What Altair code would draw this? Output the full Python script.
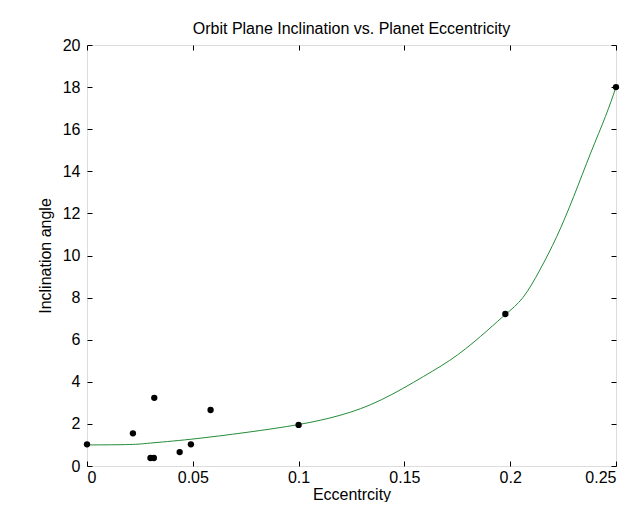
import altair as alt
import pandas as pd

# observed planets
ecc = [0.0, 0.0217, 0.0300, 0.0316, 0.0318, 0.0438, 0.0491, 0.0584, 0.1, 0.1977, 0.25]
inc = [1.03, 1.55, 0.38, 0.38, 3.24, 0.66, 1.03, 2.66, 1.95, 7.22, 18.0]

# fitted curve
fit_e = [0.0, 0.02, 0.03, 0.049, 0.0756, 0.1, 0.12, 0.139, 0.159, 0.175, 0.189,
         0.198, 0.206, 0.214, 0.222, 0.23, 0.238, 0.245, 0.25]
fit_i = [1.0, 1.02, 1.09, 1.27, 1.6, 1.97, 2.42, 3.14, 4.25, 5.27, 6.42,
         7.22, 8.0, 9.31, 10.9, 12.8, 14.86, 16.6, 18.0]

x_ticks = [0, 0.05, 0.1, 0.15, 0.2, 0.25]
y_ticks = [0, 2, 4, 6, 8, 10, 12, 14, 16, 18, 20]

W, H = 529, 421
FONT = "Liberation Sans"
FS = 16

pts = pd.DataFrame({"e": ecc, "i": inc})
fit = pd.DataFrame({"e": fit_e, "i": fit_i})

xs = alt.Scale(domain=[0, 0.25], nice=False, zero=False)
ys = alt.Scale(domain=[0, 20], nice=False, zero=False)

def xaxis(orient, labels, offset=0, title=None):
    kw = dict(orient=orient, values=x_ticks, format="~g", grid=False, domain=False,
              labels=labels, title=title, offset=offset)
    if labels:
        kw.update(ticks=False, labelPadding=3, labelFontSize=FS, labelFont=FONT,
                  labelColor="black", titleFontSize=FS, titleFont=FONT,
                  titleFontWeight="normal", titleColor="black", titlePadding=1)
    else:
        kw.update(ticks=True, tickSize=5, tickColor="black", tickWidth=1)
    return alt.Axis(**kw)

def yaxis(orient, labels, offset=0, title=None):
    kw = dict(orient=orient, values=y_ticks, format="~g", grid=False, domain=False,
              labels=labels, title=title, offset=offset)
    if labels:
        kw.update(ticks=False, labelPadding=7, labelFontSize=FS, labelFont=FONT,
                  labelColor="black", titleFontSize=FS, titleFont=FONT,
                  titleFontWeight="normal", titleColor="black", titlePadding=9)
    else:
        kw.update(ticks=True, tickSize=5, tickColor="black", tickWidth=1)
    return alt.Axis(**kw)

line = alt.Chart(fit).mark_line(color="#238c38", strokeWidth=1, interpolate="natural").encode(
    x=alt.X("e:Q", scale=xs, axis=xaxis("bottom", True, title="Eccentrcity")),
    y=alt.Y("i:Q", scale=ys, axis=yaxis("left", True, title="Inclination angle")),
)

dots = alt.Chart(pts).mark_point(filled=True, color="black", size=40, opacity=1).encode(
    x=alt.X("e:Q", scale=xs, axis=xaxis("top", False, offset=-H)),
    y=alt.Y("i:Q", scale=ys, axis=yaxis("right", False, offset=-W)),
)

ghost = alt.Chart(pts).mark_point(opacity=0).encode(
    x=alt.X("e:Q", scale=xs, axis=xaxis("bottom", False, offset=-H)),
    y=alt.Y("i:Q", scale=ys, axis=yaxis("left", False, offset=-W)),
)

chart = (
    alt.layer(line, dots, ghost)
    .resolve_axis(x="independent", y="independent")
    .properties(
        width=W,
        height=H,
        autosize=alt.AutoSizeParams(type="none"),
        padding={"left": 79, "top": 37, "right": 10, "bottom": 36},
        title=alt.TitleParams(
            "Orbit Plane Inclination vs. Planet Eccentricity",
            fontSize=FS, fontWeight="normal", font=FONT, color="black",
            anchor="middle", offset=0,
        ),
    )
    .configure_view(stroke="black", strokeWidth=1)
    .configure(background="white")
)

chart.save("out.html", embed_options={"renderer": "svg", "actions": False})
